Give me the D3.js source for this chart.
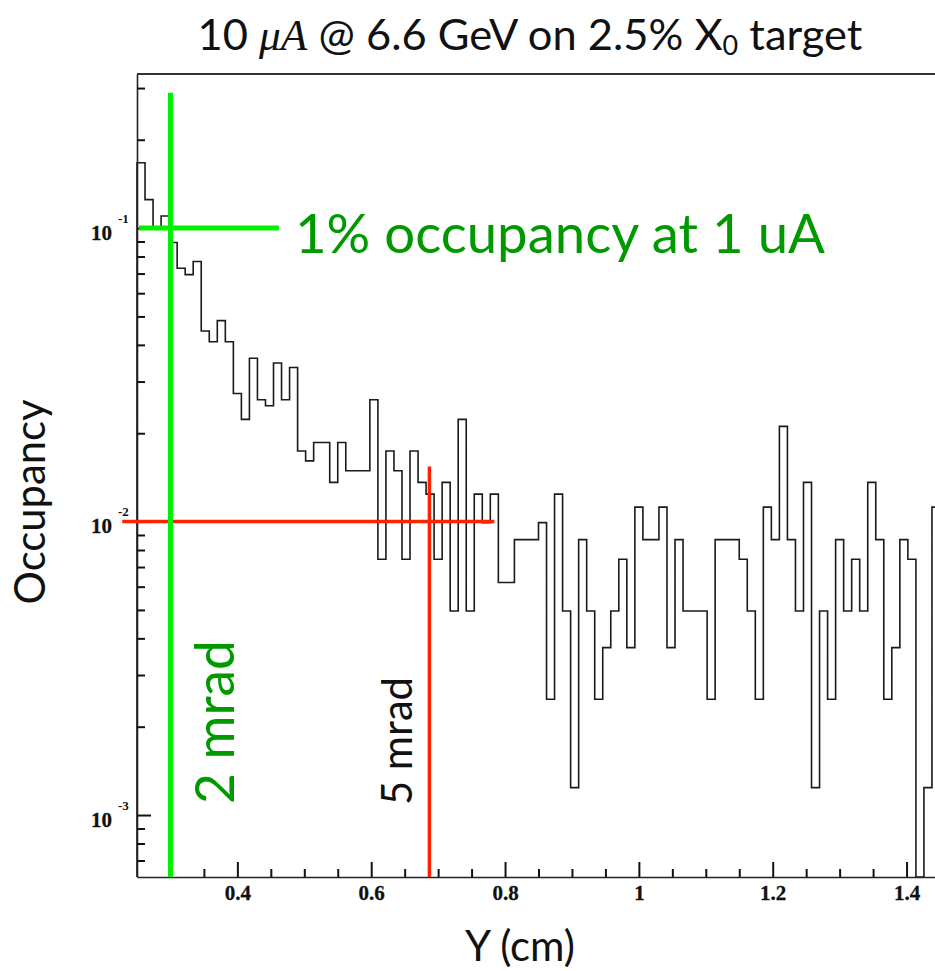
<!DOCTYPE html>
<html><head><meta charset="utf-8">
<script src="https://cdn.jsdelivr.net/npm/d3@7"></script>
<style>body{margin:0;background:#fff}svg{display:block}</style>
</head><body>
<svg id="c" width="935" height="971"></svg>
<script>
// ---------- data ----------
const binLow = 0.25;          // Y (cm) of first bin edge
const binWidth = 0.012;       // Y (cm) bin width
const occupancy = [
 0.167,0.125,0.0992,0.110,0.0893,0.0730,0.0694,0.0769,0.0446,0.0410,
 0.0484,0.0410,0.0273,0.0223,0.0360,0.0260,0.0248,0.0347,0.0260,0.0335,
 0.0174,0.0161,0.0186,0.0186,0.0136,0.0186,0.0149,0.0149,0.0149,0.0260,
 0.00744,0.0174,0.0149,0.00744,0.0174,0.0136,0.0124,0.00744,0.0136,0.00496,
 0.0223,0.00496,0.0124,0.00992,0.0124,0.00620,0.00620,0.00868,0.00868,0.00868,
 0.00992,0.00248,0.0124,0.00496,0.00124,0.00868,0.00496,0.00248,0.00372,0.00496,
 0.00744,0.00372,0.0112,0.00868,0.00868,0.0112,0.00372,0.00868,0.00496,0.00496,
 0.00496,0.00248,0.00868,0.00868,0.00868,0.00744,0.00496,0.00248,0.0112,0.00868,
 0.0211,0.00868,0.00496,0.0136,0.00124,0.00496,0.00248,0.00868,0.00496,0.00744,
 0.00496,0.0136,0.00868,0.00248,0.00372,0.00868,0.00744,0,0.00124,0.0112
];
const xMajorTicks = [0.4, 0.6, 0.8, 1.0, 1.2, 1.4];
const xTickLabels = ["0.4", "0.6", "0.8", "1", "1.2", "1.4"];
const yMajorTicks = [1e-1, 1e-2, 1e-3];
const yTickExponents = ["-1", "-2", "-3"];
const xDomain = [0.25, 1.45];
const yDomain = [6.15e-4, 0.335];

// annotation lines in data units
const greenV = {x: 0.3, yTop: 0.289};
const greenH = {y: 0.1, x0: 0.253, x1: 0.462};
const redH = {y: 0.01, x0: 0.228, x1: 0.784};
const redV = {x: 0.687, yTop: 0.0154};

const titleText = ["10 ", "μA", " @ 6.6 GeV on 2.5% X", "0", " target"];
const xTitle = "Y (cm)";
const yTitle = "Occupancy";
const noteOccupancy = "1% occupancy at 1 uA";
const note2 = "2 mrad";
const note5 = "5 mrad";

// ---------- layout ----------
const mLeft = 137, mTop = 74, mBottom = 877, mRight = 940;
const svg = d3.select("#c");
const x = d3.scaleLinear().domain(xDomain).range([mLeft, mRight]);
const y = d3.scaleLog().domain(yDomain).range([mBottom, mTop]);
const yc = v => y(Math.max(v, yDomain[0]));
const sans = "Lato, 'Open Sans', 'DejaVu Sans', sans-serif";
const serif = "'Liberation Serif', 'DejaVu Serif', serif";

function fit(sel, target) {
  const w = sel.node().getComputedTextLength();
  const fs = parseFloat(sel.attr("font-size"));
  sel.attr("font-size", fs * target / w);
}

// histogram
const pts = [[x(binLow), mBottom]];
occupancy.forEach((v, i) => {
  const a = binLow + i * binWidth, b = a + binWidth;
  pts.push([x(a), yc(v)], [x(b), yc(v)]);
});
pts.push([x(binLow + occupancy.length * binWidth), mBottom]);
svg.append("path").attr("d", d3.line()(pts))
  .attr("fill", "none").attr("stroke", "#1a1a1a").attr("stroke-width", 1.6);

// x axis (ticks inside)
const xMinor = d3.range(0.25, 1.4501, 0.05).filter(v => !xMajorTicks.some(m => Math.abs(m - v) < 1e-6) && v > 0.26);
svg.append("g").attr("transform", `translate(0,${mBottom})`)
  .call(d3.axisBottom(x).tickValues(xMinor).tickSizeInner(-8).tickSizeOuter(0).tickFormat(""))
  .call(g => g.select(".domain").attr("stroke", "#222").attr("stroke-width", 1.6))
  .call(g => g.selectAll(".tick line").attr("stroke", "#111").attr("stroke-width", 2));
const xa = svg.append("g").attr("transform", `translate(0,${mBottom})`)
  .call(d3.axisBottom(x).tickValues(xMajorTicks).tickSizeInner(-15).tickSizeOuter(0)
        .tickFormat((d, i) => xTickLabels[i]).tickPadding(0));
xa.select(".domain").remove();
xa.selectAll(".tick line").attr("stroke", "#111").attr("stroke-width", 2);
xa.selectAll(".tick text").attr("y", 23).attr("dy", null)
  .attr("font-family", serif).attr("font-weight", "bold").attr("font-size", 21)
  .attr("fill", "#111").attr("stroke", "#111").attr("stroke-width", 0.3);

// y axis (ticks inside)
const yMinor = [];
for (let e = -4; e <= -1; e++) for (let k = 2; k <= 9; k++) {
  const v = k * Math.pow(10, e);
  if (v > yDomain[0] && v < yDomain[1]) yMinor.push(v);
}
svg.append("g").attr("transform", `translate(${mLeft},0)`)
  .call(d3.axisLeft(y).tickValues(yMinor).tickSizeInner(-8).tickSizeOuter(0).tickFormat(""))
  .call(g => g.select(".domain").attr("stroke", "#222").attr("stroke-width", 1.6))
  .call(g => g.selectAll(".tick line").attr("stroke", "#111").attr("stroke-width", 2));
const ya = svg.append("g").attr("transform", `translate(${mLeft},0)`)
  .call(d3.axisLeft(y).tickValues(yMajorTicks).tickSizeInner(-14).tickSizeOuter(0).tickFormat(""));
ya.select(".domain").remove();
ya.selectAll(".tick line").attr("stroke", "#111").attr("stroke-width", 2);
ya.selectAll(".tick").each(function (d, i) {
  const t = d3.select(this);
  t.append("text").attr("x", -25).attr("y", 11).attr("text-anchor", "end")
    .attr("font-family", serif).attr("font-weight", "bold").attr("font-size", 21)
    .attr("fill", "#111").attr("stroke", "#111").attr("stroke-width", 0.3)
    .text("10");
  t.append("text").attr("x", -19).attr("y", -6).attr("text-anchor", "start")
    .attr("font-family", serif).attr("font-weight", "bold").attr("font-size", 13).attr("fill", "#111")
    .text(yTickExponents[i]);
});

// top frame line
svg.append("line").attr("x1", mLeft).attr("x2", mRight).attr("y1", mTop).attr("y2", mTop)
  .attr("stroke", "#333").attr("stroke-width", 2);

// annotation lines
svg.append("line").attr("x1", x(redH.x0)).attr("x2", x(redH.x1)).attr("y1", y(redH.y)).attr("y2", y(redH.y))
  .attr("stroke", "#ff2200").attr("stroke-width", 3.5);
svg.append("line").attr("x1", x(redV.x)).attr("x2", x(redV.x)).attr("y1", y(redV.yTop)).attr("y2", mBottom)
  .attr("stroke", "#ff2200").attr("stroke-width", 3.5);
svg.append("line").attr("x1", x(greenH.x0)).attr("x2", x(greenH.x1)).attr("y1", y(greenH.y)).attr("y2", y(greenH.y))
  .attr("stroke", "#00f000").attr("stroke-width", 5);
svg.append("line").attr("x1", x(greenV.x)).attr("x2", x(greenV.x)).attr("y1", y(greenV.yTop)).attr("y2", mBottom)
  .attr("stroke", "#00f000").attr("stroke-width", 5);

// title
const title = svg.append("text").attr("x", 530).attr("y", 50).attr("text-anchor", "middle")
  .attr("font-family", sans).attr("font-size", 30).attr("fill", "#111");
title.append("tspan").text(titleText[0]);
title.append("tspan").attr("font-family", serif).attr("font-style", "italic").text(titleText[1]);
title.append("tspan").text(titleText[2]);
title.append("tspan").attr("font-size", "0.62em").attr("dy", 5).text(titleText[3]);
title.append("tspan").attr("dy", -5).text(titleText[4]);
fit(title, 665);

// axis titles
const xt = svg.append("text").attr("x", 520).attr("y", 961).attr("text-anchor", "middle")
  .attr("font-family", sans).attr("font-size", 30).attr("fill", "#111").text(xTitle);
fit(xt, 110);
const yt = svg.append("text").attr("transform", "translate(45,502) rotate(-90)").attr("text-anchor", "middle")
  .attr("font-family", sans).attr("font-size", 30).attr("fill", "#111").text(yTitle);
fit(yt, 205);

// annotation texts
const n1 = svg.append("text").attr("x", 295).attr("y", 253)
  .attr("font-family", sans).attr("font-size", 50).attr("fill", "#009a00").text(noteOccupancy);
fit(n1, 530);
const n2 = svg.append("text").attr("transform", "translate(234,804) rotate(-90)")
  .attr("font-family", sans).attr("font-size", 50).attr("fill", "#009a00").text(note2);
fit(n2, 164);
const n5 = svg.append("text").attr("transform", "translate(412,805) rotate(-90)")
  .attr("font-family", sans).attr("font-size", 36).attr("fill", "#111").text(note5);
fit(n5, 128);
</script>
</body></html>
